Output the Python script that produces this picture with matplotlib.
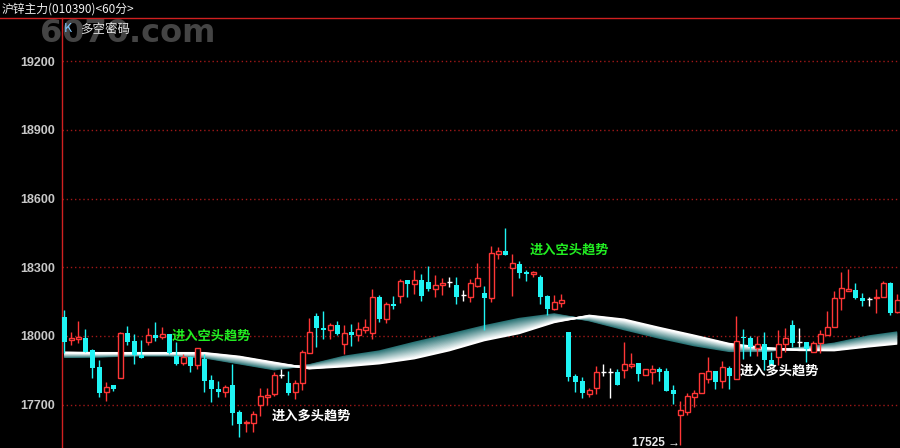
import matplotlib
matplotlib.use('Agg')
import matplotlib.pyplot as plt
from matplotlib.lines import Line2D
import numpy as np

plt.rcParams['font.family'] = ['Noto Sans CJK SC', 'DejaVu Sans']

# 60-minute bars
opens = [18084, 17981, 17988, 17993, 17939, 17865, 17757, 17786, 17818, 18013,
         17978, 17917, 17974, 18004, 17997, 18009, 17914, 17880, 17907, 17872,
         17898, 17808, 17769, 17757, 17786, 17667, 17619, 17619, 17699, 17735,
         17748, 17830, 17795, 17756, 17794, 17927, 18087, 18035, 18028, 18048,
         17966, 18017, 18006, 18026, 18015, 18170, 18076, 18140, 18176, 18244,
         18227, 18244, 18236, 18206, 18221, 18234, 18223, 18178, 18172, 18219,
         18188, 18167, 18359, 18371, 18298, 18316, 18278, 18269, 18257, 18173,
         18118, 18145, 18017, 17827, 17804, 17748, 17772, 17844, 17843, 17843,
         17853, 17870, 17882, 17831, 17844, 17856, 17847, 17764, 17657, 17670,
         17735, 17750, 17811, 17847, 17802, 17860, 17811, 17997, 17990, 17946,
         17964, 17895, 17910, 17965, 18048, 17973, 17973, 17932, 17971, 18006,
         18041, 18165, 18198, 18200, 18167, 18160, 18164, 18172, 18230, 18106]
highs = [18113, 18016, 18065, 18031, 17941, 17895, 17801, 17786, 18017, 18044,
         18010, 17983, 18035, 18061, 18039, 18009, 17975, 17921, 17913, 17946,
         17921, 17829, 17804, 17785, 17878, 17677, 17633, 17673, 17773, 17773,
         17842, 17856, 17849, 17808, 17939, 18077, 18102, 18109, 18055, 18065,
         18048, 18052, 18061, 18074, 18204, 18178, 18148, 18175, 18249, 18244,
         18288, 18272, 18305, 18266, 18253, 18256, 18257, 18199, 18249, 18319,
         18218, 18393, 18387, 18471, 18358, 18326, 18289, 18282, 18267, 18180,
         18179, 18182, 18017, 17834, 17820, 17773, 17870, 17878, 17859, 17855,
         17974, 17926, 17882, 17855, 17873, 17865, 17860, 17786, 17718, 17751,
         17764, 17837, 17908, 17847, 17891, 17869, 18087, 18031, 18001, 18000,
         18016, 17931, 18026, 18034, 18070, 18036, 17973, 17978, 18026, 18109,
         18196, 18281, 18292, 18230, 18186, 18171, 18205, 18240, 18237, 18183]
lows = [17927, 17961, 17968, 17930, 17818, 17735, 17718, 17761, 17818, 17961,
        17878, 17905, 17961, 17980, 17988, 17920, 17875, 17872, 17844, 17855,
        17757, 17713, 17734, 17732, 17612, 17558, 17582, 17582, 17652, 17699,
        17739, 17818, 17741, 17726, 17764, 17925, 17953, 17988, 17987, 18005,
        17923, 17956, 17980, 18013, 17988, 18063, 18058, 18119, 18145, 18171,
        18183, 18154, 18196, 18171, 18179, 18214, 18141, 18154, 18150, 18215,
        18026, 18150, 18337, 18355, 18175, 18254, 18241, 18256, 18138, 18092,
        18112, 18128, 17805, 17757, 17731, 17732, 17748, 17825, 17731, 17788,
        17818, 17859, 17805, 17831, 17792, 17805, 17761, 17705, 17525, 17655,
        17691, 17750, 17796, 17767, 17773, 17767, 17811, 17900, 17914, 17914,
        17852, 17873, 17873, 17929, 17953, 17951, 17888, 17929, 17927, 18006,
        18041, 18113, 18198, 18160, 18132, 18132, 18099, 18172, 18092, 18099]
closes = [17975, 17990, 17997, 17932, 17862, 17753, 17776, 17767, 18013, 17974,
          17918, 17905, 18004, 17993, 18009, 17925, 17878, 17908, 17869, 17946,
          17805, 17769, 17756, 17776, 17663, 17616, 17626, 17658, 17737, 17743,
          17829, 17830, 17751, 17795, 17930, 18016, 18036, 18028, 18049, 18010,
          18012, 18006, 18029, 18038, 18169, 18076, 18138, 18132, 18239, 18227,
          18243, 18175, 18205, 18221, 18231, 18234, 18172, 18178, 18231, 18253,
          18167, 18362, 18371, 18355, 18319, 18276, 18269, 18278, 18172, 18119,
          18147, 18158, 17822, 17798, 17751, 17766, 17843, 17844, 17843, 17788,
          17877, 17878, 17836, 17855, 17856, 17843, 17761, 17747, 17676, 17737,
          17750, 17837, 17847, 17801, 17865, 17824, 17980, 17990, 17953, 17964,
          17895, 17873, 17964, 17990, 17971, 17973, 17942, 17968, 18007, 18039,
          18165, 18209, 18206, 18165, 18154, 18160, 18171, 18230, 18099, 18157]

# "多空密码" ribbon: fast and slow edges, sampled every few bars
ribbon_idx = [0, 5, 10, 15, 20, 25, 30, 35, 40, 45, 50, 55, 60, 65, 70, 75,
              80, 85, 90, 95, 100, 105, 110, 115, 119]
ribbon_fast = [17908, 17910, 17915, 17915, 17906, 17880, 17854, 17873, 17910,
               17933, 17971, 18006, 18043, 18075, 18095, 18068, 18029, 17992,
               17959, 17934, 17934, 17947, 17967, 17999, 18016]
ribbon_slow = [17928, 17926, 17926, 17926, 17926, 17910, 17884, 17858, 17867,
               17880, 17902, 17937, 17981, 18012, 18060, 18089, 18072, 18036,
               18002, 17966, 17948, 17938, 17937, 17954, 17966]

yticks = [17700, 18000, 18300, 18600, 18900, 19200]

signals = [(15.3, 18000, '进入空头趋势', '#22ee22'),
           (66.5, 18375, '进入空头趋势', '#22ee22'),
           (29.6, 17651, '进入多头趋势', '#ffffff'),
           (96.5, 17847, '进入多头趋势', '#ffffff')]

RED = '#ff3636'
CYAN = '#1ff4f4'

fig = plt.figure(figsize=(9, 4.48), dpi=100, facecolor='black')
ax = fig.add_axes([62 / 900, 0, 838 / 900, 430 / 448])
ax.set_facecolor('black')

x = np.arange(len(closes))
o = np.array(opens); h = np.array(highs); l = np.array(lows); c = np.array(closes)
up = c > o
dn = c < o
flat = c == o
w = 0.68

# ribbon
fast = np.array(ribbon_fast, float)
slow = np.array(ribbon_slow, float)
n = 14
c0 = np.array([1.0, 1.0, 1.0])
c1 = np.array([0.16, 0.45, 0.46])
for k in range(n):
    f = k / (n - 1)
    col = c0 * (1 - f) + c1 * f
    ax.plot(ribbon_idx, slow + f * (fast - slow), color=col, lw=1.4,
            zorder=2 + (n - k) * 0.01, solid_capstyle='butt')

# down bars: solid cyan
ax.vlines(x[dn], l[dn], h[dn], color=CYAN, lw=1, zorder=3)
ax.bar(x[dn], o[dn] - c[dn], w, bottom=c[dn], color=CYAN, lw=0, zorder=4)

# up bars: hollow red
top = np.maximum(o, c); bot = np.minimum(o, c)
ax.vlines(x[up], top[up], h[up], color=RED, lw=1, zorder=3)
ax.vlines(x[up], l[up], bot[up], color=RED, lw=1, zorder=3)
ax.bar(x[up], np.maximum(c[up] - o[up], 4), w, bottom=o[up], facecolor='black',
       edgecolor=RED, lw=1, zorder=4)

# doji: white cross
ax.vlines(x[flat], l[flat], h[flat], color='white', lw=1, zorder=3)
ax.hlines(c[flat], x[flat] - w / 2, x[flat] + w / 2, color='white', lw=1, zorder=4)

for xi, yv, txt, col in signals:
    ax.text(xi, yv, txt, color=col, fontsize=9.5, fontweight='bold',
            ha='left', va='center', zorder=6)

lo_i = int(np.argmin(l))
ax.text(lo_i - 0.1, l[lo_i] + 10, f'{l[lo_i]} →', color='#e8e8e8', fontsize=8.5,
        ha='right', va='center', family=['Liberation Sans', 'DejaVu Sans'],
        fontweight='bold', zorder=6)

ax.set_xlim(-0.33, 119.4)
ax.set_ylim(17511, 19388)
ax.set_yticks(yticks)
ax.set_yticklabels([str(v) for v in yticks], color='#c8c8c8', fontsize=9,
                   fontweight='bold', family='Liberation Sans')
ax.tick_params(axis='y', length=0, pad=5)
ax.set_xticks([])
for yv in yticks:
    ax.axhline(yv, color='#a01818', lw=1, ls=(0, (1, 2)), zorder=1)
for s in ['top', 'right', 'bottom']:
    ax.spines[s].set_visible(False)
ax.spines['left'].set_color('#d02020')
ax.spines['left'].set_linewidth(1)

# header
fig.add_artist(Line2D([0, 1], [1 - 18 / 448] * 2, color='#d02020', lw=1))
fig.text(2 / 900, 1 - 9 / 448, '沪锌主力(010390)<60分>', color='#f0f0f0',
         fontsize=8.5, va='center', ha='left')
fig.text(40 / 900, 1 - 34 / 448, '6070.com', color='#444444', fontsize=23,
         fontweight='bold', va='center', ha='left', family='DejaVu Sans', zorder=0)
fig.text(64 / 900, 1 - 29 / 448, 'K', color='#80c8ff', fontsize=9,
         va='center', ha='left', zorder=2)
fig.text(80 / 900, 1 - 29 / 448, '多空密码', color='#e0e0e0', fontsize=9,
         va='center', ha='left', zorder=2)

fig.savefig('out.png', dpi=100, facecolor='black')
